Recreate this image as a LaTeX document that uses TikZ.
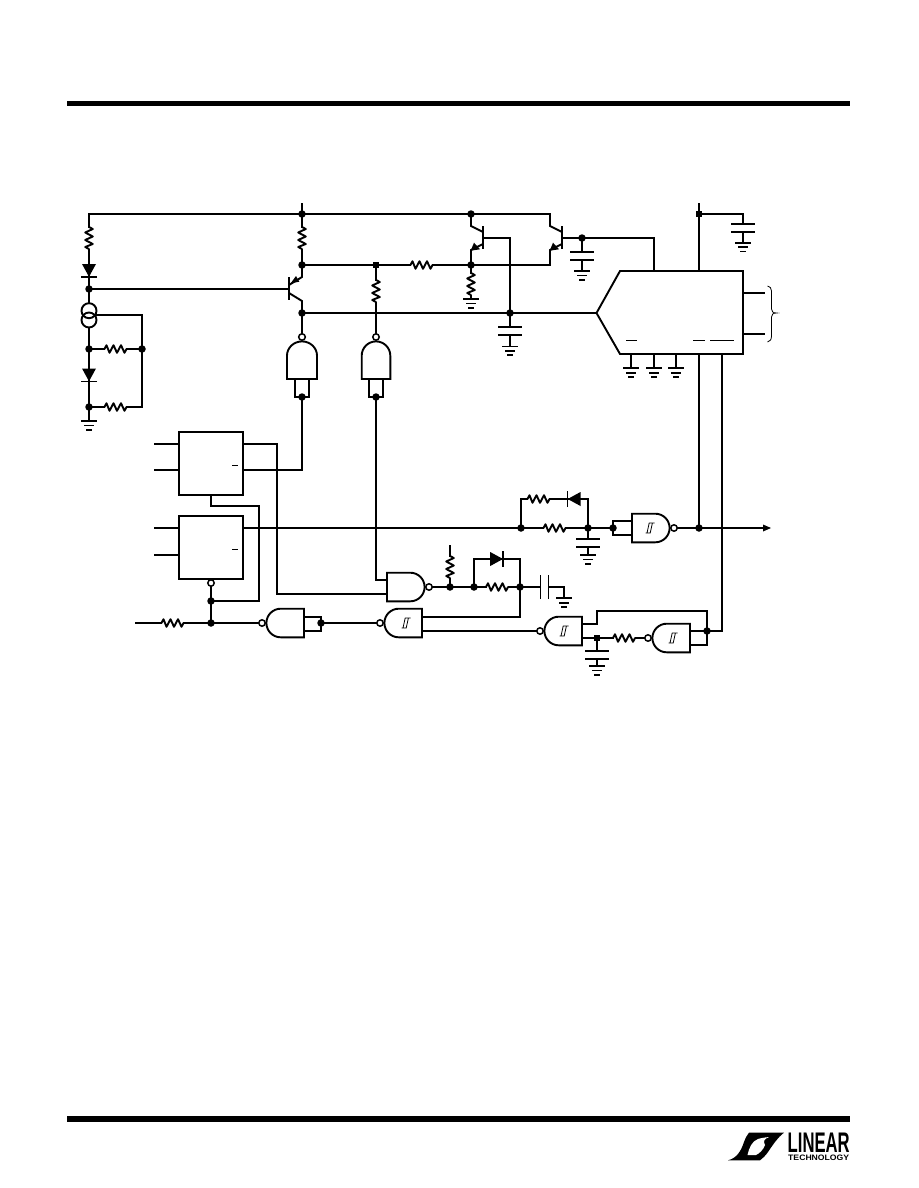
\documentclass[tikz,border=0pt]{standalone}
\usepackage{fontspec}
\setsansfont{Liberation Sans}
\tikzset{
  wire/.style={line width=1.9pt,line join=miter,line cap=rect},
  dot/.style={circle,fill=black,inner sep=0pt,minimum size=7.5pt},
  sqdot/.style={rectangle,fill=black,inner sep=0pt,minimum size=6.5pt},
  bub/.style={fill=white,draw=black,line width=1.5pt},
  rline/.style={line width=1.9pt,line join=round,line cap=round},
  thin bar/.style={line width=0.8pt},
  res/.pic={
    \fill[white] (-10.5,-2.4) rectangle (10.5,2.4);
    \draw[rline] (-11,0)--(-9,-3.8)--(-6,3.8)--(-2,-3.8)--(1.5,3.8)--(5.5,-3.8)--(9,3.8)--(11,0);
  },
  gnd/.pic={
    \draw[line width=1.8pt] (-7.7,0)--(7.7,0) (-5,4.4)--(5,4.4) (-2.6,8.7)--(2.6,8.7);
  },
  capa/.pic={
    \fill[white] (-12,-3.5) rectangle (12,3.5);
    \draw[line width=1.9pt] (-12,-4)--(12,-4) (-12,4)--(12,4);
  },
  diod/.pic={
    \fill (-6.5,-7)--(-6.5,7)--(6.3,0)--cycle;
    \draw[line width=1.9pt] (6.5,-8)--(6.5,8);
  },
  nandg/.pic={
    \draw[line width=1.9pt,fill=white,line join=miter] (0,-14.3)--(23.3,-14.3)
      .. controls (31.2,-14.3) and (37.6,-7.9) .. (37.6,0)
      .. controls (37.6,7.9) and (31.2,14.3) .. (23.3,14.3)--(0,14.3)--cycle;
    \draw[bub] (42,0) circle (3.2);
  },
  schm/.pic={
    \draw[thin bar,line join=miter] (-4.5,5)--(0.2,5)--(2.4,-5)--(4.7,-5) (-3,5)--(-0.8,-5)--(2.4,-5);
  },
  pnpq/.pic={
    \draw[wire] (0,-11)--(0,10);
    \draw[wire,line cap=butt] (0,-4)--(13,-12)--(13,-24) (0,4)--(13,12)--(13,24);
    \fill (1.7,-5.7)--(7,-13)--(10.3,-7.3)--cycle;
  },
  npnq/.pic={
    \draw[wire] (0,-11)--(0,10);
    \draw[wire,line cap=butt] (0,-6)--(-12,-12)--(-12,-24) (0,6)--(-12,12)--(-12,27);
    \fill (-9,4.7)--(-3,11.3)--(-12.3,12.7)--cycle;
  }
}
\begin{document}
\begin{tikzpicture}[x=1pt,y=-1pt]
\useasboundingbox (0,0) rectangle (918,1188);
\fill[white] (0,0) rectangle (918,1188);
% rules
\fill (67,101) rectangle (850,106.5);
\fill (67,1116) rectangle (850,1121.5);

% named points
\coordinate (a0) at (302,204);
\coordinate (a1) at (89,214);
\node[dot] (a2) at (302,214) {};
\node[dot] (a3) at (471,214) {};
\coordinate (a4) at (550,214);
\node[dot] (b1) at (89,289) {};
\node[dot] (b2) at (89,349) {};
\node[dot] (b3) at (89,407) {};
\coordinate (b4) at (89,421);
\node[dot] (c1) at (142,349) {};
\coordinate (c2) at (142,407);
\coordinate (c3) at (142,315);
\coordinate (c4) at (96,315);
\coordinate (qb) at (289,289);
\node[dot] (e1) at (302,265) {};
\node[dot] (k1) at (302,313) {};
\coordinate (k1b) at (302,335);
\node[sqdot] (m1) at (376,265) {};
\coordinate (m1b) at (376,335);
\node[dot] (m2) at (471,265) {};
\coordinate (m3) at (550,265);
\coordinate (m4) at (471,299);
\node[dot] (k2) at (510,313) {};
\coordinate (tip) at (596.5,313);
\coordinate (b2a) at (483,238);
\coordinate (b3a) at (562,238);
\node[dot] (b3j) at (582,238) {};
\coordinate (ictop1) at (654,271);
\coordinate (capg1) at (582,271);
\coordinate (capg2) at (510,346.5);
% IC
\coordinate (ic1) at (620,271);
\coordinate (ic2) at (743,271);
\coordinate (ic3) at (743,354);
\coordinate (ic4) at (620,354);
\coordinate (s0) at (699,204);
\node[sqdot] (s1) at (699,214) {};
\coordinate (s2) at (699,271);
\coordinate (s3) at (743,214);
\coordinate (s4) at (743,242.7);
\coordinate (o1a) at (743,293);
\coordinate (o1b) at (764,293);
\coordinate (o2a) at (743,334);
\coordinate (o2b) at (764,334);
\coordinate (p1) at (699,354);
\coordinate (p2) at (722,354);
\node[dot] (p3) at (699,528) {};
\coordinate (p4) at (722,631);
\node[dot] (p5) at (707,631) {};
% gate inputs
\node[dot] (g1in) at (302,397) {};
\node[dot] (g2in) at (376,397) {};
% boxes
\node[draw,line width=1.9pt,inner sep=0pt,minimum width=64pt,minimum height=63pt,fill=white] (ff1) at (211,463.5) {};
\node[draw,line width=1.9pt,inner sep=0pt,minimum width=64pt,minimum height=63pt,fill=white] (ff2) at (211,547.5) {};
\coordinate (i1) at (155,444);
\coordinate (i2) at (155,470);
\coordinate (i3) at (155,528);
\coordinate (i4) at (155,555);
\coordinate (f1a) at (243,444);
\coordinate (f1b) at (243,470);
\coordinate (f2a) at (243,528);
\coordinate (cin1) at (387,580);
\coordinate (cin2) at (387,594);
\coordinate (bx1) at (277,594);
\coordinate (st1) at (211,495);
\coordinate (st2) at (259,506);
\node[dot] (j1) at (211,601) {};
\node[dot] (j2) at (211,623) {};
\coordinate (inL) at (136,623);
\coordinate (ba) at (262,623);
\node[dot] (ga) at (321,623) {};
\coordinate (bb) at (380,623);
\coordinate (bu) at (211,586);
% right part
\node[dot] (r1) at (521,528) {};
\node[dot] (r2) at (588,528) {};
\node[dot] (r3) at (613,528) {};
\coordinate (arr) at (765,528);
\coordinate (bd) at (674,528);
\coordinate (capg3) at (588,555);
\coordinate (rt1) at (521,499);
\coordinate (rt2) at (588,499);
\coordinate (dIn1) at (632,521);
\coordinate (dIn2) at (632,535);
\coordinate (bc) at (429,587);
\node[dot] (n1) at (450,587) {};
\node[dot] (n2) at (474,587) {};
\node[dot] (n3) at (520,587) {};
\coordinate (n4) at (564,587);
\coordinate (n5) at (564,598.3);
\coordinate (rtop) at (450,546);
\coordinate (fb1) at (474,559);
\coordinate (fb2) at (520,559);
\coordinate (bo1) at (422,617);
\coordinate (bo2) at (422,631);
\coordinate (be) at (539.3,631);
\coordinate (eo1) at (582,624);
\coordinate (eo2) at (582,638);
\node[sqdot] (t1) at (597,638) {};
\coordinate (t2) at (597,611);
\coordinate (t3) at (707,611);
\coordinate (t4) at (707,645);
\coordinate (t5) at (690,645);
\coordinate (t6) at (690,631);
\coordinate (bf) at (648.7,638);
\coordinate (capg4) at (597,666);

% wires
\draw[wire] (a1)--(a4) (a0)--(a2);
\draw[wire] (a1)--(b4);
\draw[wire] (b1)--(qb);
\draw[wire] (c4)--(c3)--(c2)--(b3);
\draw[wire] (b2)--(c1);
\draw[wire] (a2)--(e1);
\draw[wire] (k1)--(k1b);
\draw[wire] (e1)--(m3);
\draw[wire] (m1)--(m1b);
\draw[wire] (k1)--(tip);
\draw[wire] (m2)--(m4);
\draw[wire] (b2a)-|(k2);
\draw[wire] (k2)--(capg2);
\draw[wire] (b3a)--(b3j);
\draw[wire] (b3j)-|(ictop1);
\draw[wire] (b3j)--(capg1);
\draw[wire] (s0)--(s2);
\draw[wire] (s1)--(s3)--(s4);
\draw[wire] (o1a)--(o1b) (o2a)--(o2b);
\draw[wire] (p1)--(p3);
\draw[wire] (p2)--(p4)--(p5);
\draw[wire,line join=miter] (ic1)--(ic2)--(ic3)--(ic4)--(tip)--cycle;
% IC ground stubs
\coordinate (ig1) at (631,354);\coordinate (ig2) at (654,354);\coordinate (ig3) at (676,354);
\coordinate (ih1) at (631,368.3);\coordinate (ih2) at (654,368.3);\coordinate (ih3) at (676,368.3);
\draw[wire] (ig1)--(ih1) (ig2)--(ih2) (ig3)--(ih3);
% inputs
\draw[wire] (i1)--(f1a -| ff1.west) (i2)--(f1b -| ff1.west) (i3)--(f2a -| ff2.west) (i4)--(i4 -| ff2.west);
\draw[wire] (f1a)-|(bx1)--(cin2);
\draw[wire] (f1b)-|(g1in);
\draw[wire] (st1)|-(st2)|-(j1);
\draw[wire] (bu)--(j2);
\draw[wire] (inL)--(ba);
\draw[wire] (g2in)|-(cin1);
\draw[wire] (ga)--(bb);
\draw[wire] (f2a)--(r3);
\draw[wire] (r1)|-(rt1)--(rt2)--(r2);
\draw[wire] (r2)--(capg3);
\draw[wire] (bd)--(arr);
\draw[wire] (bc)--(n4)--(n5);
\draw[wire] (rtop)--(n1);
\draw[wire] (n2)|-(fb2)--(n3);
\draw[wire] (bo1)-|(n3);
\draw[wire] (bo2)--(be);
\draw[wire] (eo1)-|(t2)--(t3)--(t4)--(t5);
\draw[wire] (eo2)--(bf);
\draw[wire] (t1)--(capg4);
\draw[wire] (t6)--(p5);
\fill (771,528)--(763,524.5)--(763,531.5)--cycle;

% gate input loops
\coordinate (l1) at (295,379);\coordinate (l2) at (295,397);\coordinate (l3) at (309,397);\coordinate (l4) at (309,379);
\draw[wire] (l1)--(l2)--(l3)--(l4);
\coordinate (l5) at (369,379);\coordinate (l6) at (369,397);\coordinate (l7) at (383,397);\coordinate (l8) at (383,379);
\draw[wire] (l5)--(l6)--(l7)--(l8);
\coordinate (l9) at (304,617);\coordinate (l10) at (321,617);\coordinate (l11) at (321,631);\coordinate (l12) at (304,631);
\draw[wire] (l9)--(l10)--(l11)--(l12);
\coordinate (l13) at (613,521);\coordinate (l14) at (613,535);
\draw[wire] (r3)--(l13)--(dIn1) (r3)--(l14)--(dIn2);

% gates
\pic[rotate=90,yscale=1.05] at (302,379) {nandg};
\pic[rotate=90] at (376,379) {nandg};
\pic[rotate=180] at (304,623) {nandg};
\pic[rotate=180] at (422,623) {nandg};
\pic at (387,587) {nandg};
\pic at (632,528) {nandg};
\pic[rotate=180] at (582,631) {nandg};
\pic[rotate=180] at (690,638) {nandg};
\pic at (406,623) {schm};
\pic at (650,528) {schm};
\pic at (564,631) {schm};
\pic at (673,638) {schm};

% transistors
\pic at (289,289) {pnpq};
\pic at (483,238) {npnq};
\pic at (562,238) {npnq};

% resistors
\pic[rotate=90] at (89,238) {res};
\pic[rotate=90] at (302,238) {res};
\pic[rotate=90] at (376,291) {res};
\pic[rotate=90] at (471,284) {res};
\pic[rotate=90] at (450,567) {res};
\pic at (115.5,349) {res};
\pic at (115.5,407) {res};
\pic at (421.5,265) {res};
\pic at (172.5,623) {res};
\pic at (497,587) {res};
\pic at (538.5,499) {res};
\pic at (554.5,528) {res};
\pic at (624,638) {res};

% diodes
\pic[rotate=-90] at (89,270.5) {diod};
\pic[rotate=-90] at (89,375) {diod};
\pic at (496.7,559) {diod};
\pic[rotate=180] at (574,499) {diod};

% current source
\fill[white] (89,310.7) circle (7.5) (89,320) circle (7.5);
\draw[line width=1.9pt] (89,310.7) circle (7.5);
\draw[line width=1.9pt] (89,320) circle (7.5);

% capacitors
\pic at (582,256) {capa};
\pic at (510,331) {capa};
\pic at (743,228) {capa};
\pic at (588,543) {capa};
\pic at (597,654.7) {capa};
\pic[rotate=90] at (544.5,587) {capa};

% grounds
\pic at (b4) {gnd};
\pic at (m4) {gnd};
\pic at (capg1) {gnd};
\pic at (capg2) {gnd};
\pic at (s4) {gnd};
\pic at (ih1) {gnd};
\pic at (ih2) {gnd};
\pic at (ih3) {gnd};
\pic at (capg3) {gnd};
\pic at (n5) {gnd};
\pic at (capg4) {gnd};

% bubble under the lower box
\draw[bub] (211,583) circle (3.2);

% overbars of the pin names
\draw[thin bar] (232,465)--(238,465) (232,549)--(238,549);
\draw[thin bar] (626,340)--(637,340) (693,340)--(705,340) (710,340)--(734,340);
% brace
\draw[line width=0.8pt] (767.5,286) .. controls (770,286.5) and (771.5,288) .. (771.5,291)
  -- (771.5,309) .. controls (771.5,311.5) and (773,313) .. (776.5,313)
  .. controls (773,313) and (771.5,314.5) .. (771.5,317)
  -- (771.5,336) .. controls (771.5,339.5) and (770,341.5) .. (767.5,342);

% logo
\fill (728,1160.3) .. controls (737,1158) and (741,1151) .. (744,1142)
  .. controls (745.5,1138) and (747,1135) .. (749,1132.7) -- (784,1132.7)
  .. controls (778,1137) and (772,1146) .. (768,1152)
  .. controls (766,1155) and (763,1158) .. (760,1160.3) -- cycle;
\fill[white] (747.5,1155) .. controls (749,1148) and (752,1141) .. (758,1139)
  .. controls (760,1138.3) and (764,1137.5) .. (769,1137)
  .. controls (764,1139) and (763,1141) .. (765,1145)
  .. controls (763,1150) and (760,1153) .. (756,1155) -- cycle;
\node[inner sep=0pt,anchor=north west] (lg1) at (787.5,1133) {\resizebox{62pt}{19.5pt}{\sffamily\bfseries LINEAR}};
\node[inner sep=0pt,anchor=north west] (lg2) at (788,1154.3) {\resizebox{61pt}{5.5pt}{\sffamily\bfseries TECHNOLOGY}};
\end{tikzpicture}
\end{document}
